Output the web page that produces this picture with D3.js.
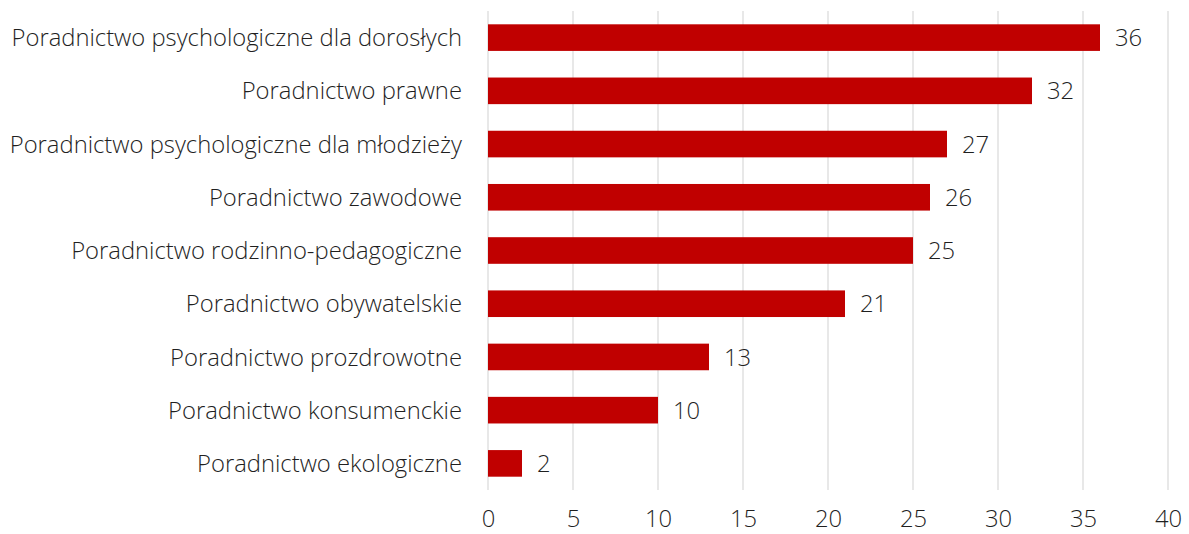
<!DOCTYPE html>
<html>
<head>
<meta charset="utf-8">
<script src="https://cdn.jsdelivr.net/npm/d3@7"></script>
<style>
  body { margin: 0; background: #fff; }
  svg text { font-family: "Open Sans", sans-serif; font-weight: 300; fill: #1f1f1f; }
</style>
</head>
<body>
<div id="chart"></div>
<script>
var categories = [
  'Poradnictwo psychologiczne dla dorosłych',
  'Poradnictwo prawne',
  'Poradnictwo psychologiczne dla młodzieży',
  'Poradnictwo zawodowe',
  'Poradnictwo rodzinno-pedagogiczne',
  'Poradnictwo obywatelskie',
  'Poradnictwo prozdrowotne',
  'Poradnictwo konsumenckie',
  'Poradnictwo ekologiczne'
];
var values = [36, 32, 27, 26, 25, 21, 13, 10, 2];
var xTicks = [0, 5, 10, 15, 20, 25, 30, 35, 40];

var width = 1189, height = 534;
var margin = { top: 11, right: 21, bottom: 44, left: 488 };
var fontSize = '23.8px';

var svg = d3.select('#chart')
  .append('svg')
  .attr('width', width)
  .attr('height', height);

var x = d3.scaleLinear()
  .domain([0, 40])
  .range([margin.left, width - margin.right]);

var y = d3.scaleBand()
  .domain(categories)
  .range([margin.top, height - margin.bottom])
  .paddingInner(0.5)
  .paddingOuter(0.25);

// gridlines
svg.append('g')
  .selectAll('line')
  .data(xTicks)
  .enter()
  .append('line')
  .attr('x1', d => x(d))
  .attr('x2', d => x(d))
  .attr('y1', margin.top)
  .attr('y2', height - margin.bottom)
  .attr('stroke', '#d9d9d9')
  .attr('stroke-width', 1.2);

// bars
svg.append('g')
  .selectAll('rect')
  .data(values)
  .enter()
  .append('rect')
  .attr('x', x(0))
  .attr('y', (d, i) => y(categories[i]))
  .attr('width', d => x(d) - x(0))
  .attr('height', y.bandwidth())
  .attr('fill', '#c00000');

// value labels
svg.append('g')
  .selectAll('text')
  .data(values)
  .enter()
  .append('text')
  .attr('x', d => x(d) + 15)
  .attr('y', (d, i) => y(categories[i]) + y.bandwidth() / 2)
  .attr('dy', '0.36em')
  .style('font-size', fontSize)
  .text(d => d);

// category labels
svg.append('g')
  .selectAll('text')
  .data(categories)
  .enter()
  .append('text')
  .attr('x', margin.left - 26)
  .attr('y', d => y(d) + y.bandwidth() / 2)
  .attr('dy', '0.36em')
  .attr('text-anchor', 'end')
  .style('font-size', fontSize)
  .text(d => d);

// x axis labels
var xAxis = svg.append('g')
  .attr('transform', 'translate(0,' + (height - margin.bottom) + ')')
  .call(d3.axisBottom(x).tickValues(xTicks).tickSize(0).tickPadding(20));
xAxis.select('.domain').remove();
xAxis.selectAll('text')
  .style('font-size', fontSize)
  .attr('font-family', null);
</script>
</body>
</html>
